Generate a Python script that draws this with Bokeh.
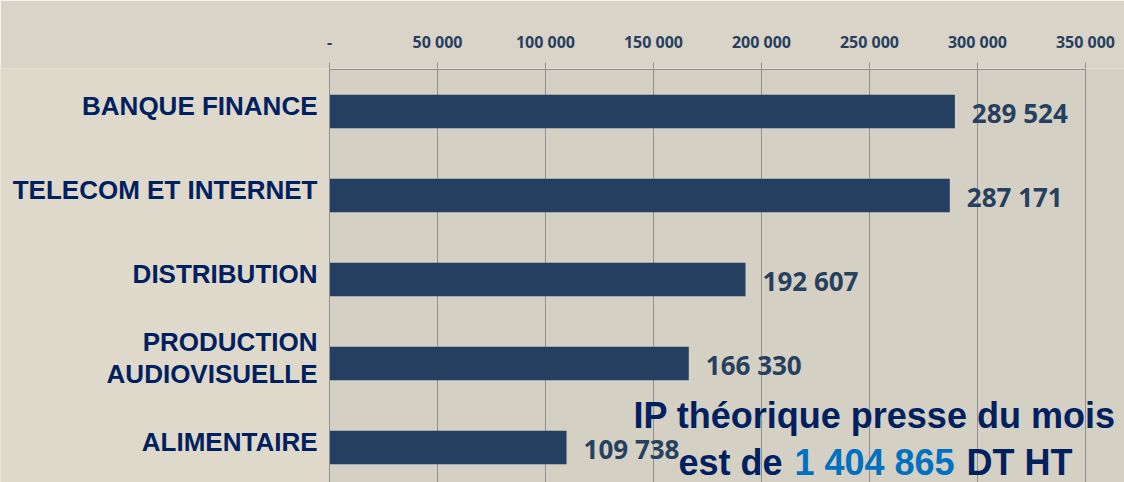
from bokeh.plotting import figure
from bokeh.models import Range1d, FixedTicker, Label, ColumnDataSource, Span, BoxAnnotation
from bokeh.core.properties import value
from bokeh.embed import file_html
from bokeh.resources import INLINE

# ---- data ----
categories = ["BANQUE FINANCE", "TELECOM ET INTERNET", "DISTRIBUTION",
              "PRODUCTION\nAUDIOVISUELLE", "ALIMENTAIRE"]
values = [289524, 287171, 192607, 166330, 109738]
tick_values = [0, 50000, 100000, 150000, 200000, 250000, 300000, 350000]
tick_labels = ["-", "50 000", "100 000", "150 000", "200 000", "250 000", "300 000", "350 000"]
note_line1 = "IP théorique presse du mois"
note_prefix = "est de"
note_total = "1 404 865"
note_suffix = "DT HT"

# ---- layout / styles ----
W, H = 1124, 482
PX_ZERO, PX_END = 329, 1085      # pixel columns of first / last tick
PY_TOP = 69                       # pixel row of the value axis line
ROW = 84                          # pixels per category
BAR = "#243f60"
NAVY = "#002060"
BLUE = "#0070c0"
GRID = "#8f8f8f"
VAL_COLOR = "#26405f"

xspan = tick_values[-1] - tick_values[0]
def px_to_x(px):
    return tick_values[0] + (px - PX_ZERO) * xspan / (PX_END - PX_ZERO)
def py_to_y(py):
    return -0.5 + (py - PY_TOP) / ROW

positions = list(range(len(categories)))
value_text = [f"{v:,}".replace(",", " ") for v in values]
src = ColumnDataSource(dict(pos=positions, val=values, txt=value_text))

top_border = PY_TOP - 1
p = figure(width=W, height=H,
           x_range=Range1d(px_to_x(0), px_to_x(W)),
           y_range=Range1d(py_to_y(H), py_to_y(top_border)),
           x_axis_location="above",
           output_backend="svg", toolbar_location=None,
           min_border_left=0, min_border_right=0,
           min_border_top=top_border, min_border_bottom=0,
           background_fill_color="#d5d0c4", border_fill_color="#dad4c8",
           outline_line_color=None)

# lighter label area on the left
p.add_layout(BoxAnnotation(right=tick_values[0], fill_color="#dfd9cc", fill_alpha=1.0,
                           line_color=None, level="underlay"))

p.xgrid.ticker = FixedTicker(ticks=tick_values)
p.xgrid.grid_line_color = GRID
p.ygrid.grid_line_color = None

# value axis line and category axis line
p.segment(x0=[tick_values[0]], x1=[tick_values[-1]], y0=[-0.5], y1=[-0.5],
          line_color=GRID, line_width=1)
p.add_layout(Span(location=tick_values[0], dimension="height", line_color=GRID, line_width=1))

p.hbar(y="pos", left=0, right="val", height=0.4, source=src,
       fill_color=BAR, line_color=None)

p.text(x="val", y="pos", text="txt", source=src, x_offset=17, y_offset=1,
       text_align="left", text_baseline="middle",
       text_font=value("Open Sans"), text_font_style="bold",
       text_font_size="26px", text_color=VAL_COLOR)

# x axis (top)
xa = p.xaxis[0]
xa.ticker = FixedTicker(ticks=tick_values)
xa.major_label_overrides = dict(zip(tick_values, tick_labels))
xa.minor_tick_line_color = None
xa.major_tick_in = 0
xa.major_tick_out = 6
xa.major_tick_line_color = GRID
xa.axis_line_color = None
xa.major_label_standoff = 10
xa.major_label_text_font = "Open Sans"
xa.major_label_text_font_style = "bold"
xa.major_label_text_font_size = "16px"
xa.major_label_text_color = VAL_COLOR

p.yaxis.visible = False

# category labels
LINE_H = 32
RAISE = 6
cx, cy, ct, co = [], [], [], []
for i, cat in zip(positions, categories):
    lines = cat.split("\n")
    n = len(lines)
    for j, line in enumerate(lines):
        cx.append(0)
        cy.append(i)
        ct.append(line)
        co.append(-RAISE - ((n - 1) / 2 - j) * LINE_H)
p.text(x=cx, y=cy, text=ct, y_offset=co, x_offset=-12,
       text_align="right", text_baseline="middle",
       text_font=value("Liberation Sans"), text_font_style="bold",
       text_font_size="26px", text_color=NAVY)

# note
common = dict(text_baseline="middle", text_font="Liberation Sans",
              text_font_style="bold", text_font_size="36px")
p.add_layout(Label(x=px_to_x(874), y=py_to_y(415), text=note_line1,
                   text_align="center", text_color=NAVY, **common))
p.add_layout(Label(x=px_to_x(782), y=py_to_y(462), text=note_prefix,
                   text_align="right", text_color=NAVY, **common))
p.add_layout(Label(x=px_to_x(874), y=py_to_y(462), text=note_total,
                   text_align="center", text_color=BLUE, **common))
p.add_layout(Label(x=px_to_x(966), y=py_to_y(462), text=note_suffix,
                   text_align="left", text_color=NAVY, **common))

open("out.html", "w").write(file_html(p, INLINE))
